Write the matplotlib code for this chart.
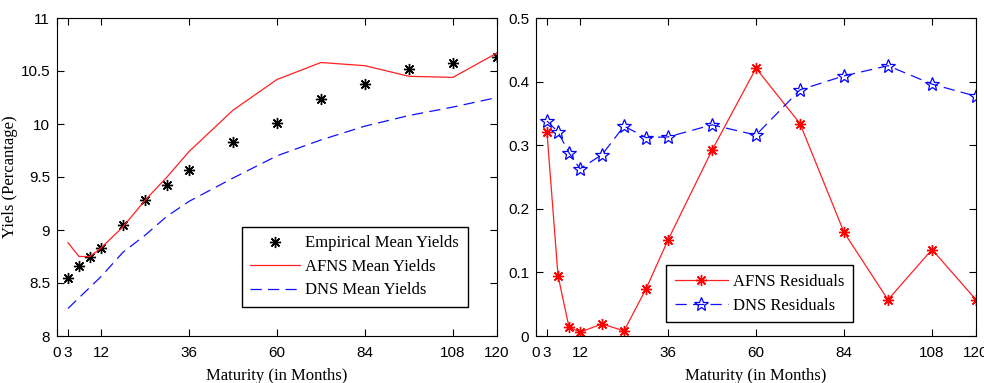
import numpy as np
import matplotlib
matplotlib.use("Agg")
import matplotlib.pyplot as plt

# maturities in months
maturity = [3, 6, 9, 12, 18, 24, 30, 36, 48, 60, 72, 84, 96, 108, 120]

# mean yields (percent)
empirical_yields = [8.55, 8.66, 8.75, 8.83, 9.05, 9.28, 9.42, 9.57, 9.83, 10.01,
                    10.24, 10.38, 10.52, 10.58, 10.63]
afns_yields = [8.88, 8.75, 8.75, 8.83, 9.03, 9.28, 9.50, 9.74, 10.13, 10.42,
               10.58, 10.55, 10.45, 10.44, 10.67]
dns_yields = [8.26, 8.36, 8.46, 8.56, 8.79, 8.95, 9.13, 9.27, 9.49, 9.70,
              9.85, 9.98, 10.08, 10.16, 10.25]

# residuals
afns_resid = [0.320, 0.095, 0.014, 0.006, 0.019, 0.008, 0.074, 0.151, 0.292, 0.421,
              0.334, 0.163, 0.057, 0.136, 0.057]
dns_resid = [0.338, 0.321, 0.288, 0.263, 0.285, 0.330, 0.312, 0.313, 0.332, 0.316,
             0.387, 0.409, 0.425, 0.396, 0.377]

xticks = [0, 3, 12, 36, 60, 84, 108, 120]
xticklabels = ["0", "3", "12", "36", "60", "84", "108", "120"]

serif = "Liberation Serif"
sans = "Liberation Sans"
asterisk = (8, 2, 0)

fig = plt.figure(figsize=(9.84, 3.83), dpi=100)
ax1 = fig.add_axes([57 / 984, 47 / 383, 440 / 984, 318 / 383])
ax2 = fig.add_axes([536 / 984, 47 / 383, 440 / 984, 318 / 383])

# left panel: mean yields
ax1.plot(maturity, empirical_yields, linestyle="none", marker=asterisk,
         color="black", markersize=8, markeredgewidth=1.0,
         label="Empirical Mean Yields")
ax1.plot(maturity, afns_yields, color="#ff2020", lw=0.9, label="AFNS Mean Yields")
ax1.plot(maturity, dns_yields, color="#1010ff", lw=0.9,
         dashes=(9, 5), label="DNS Mean Yields")
ax1.set_ylim(8, 11)
ax1.set_yticks([8, 8.5, 9, 9.5, 10, 10.5, 11])
ax1.set_yticklabels(["8", "8.5", "9", "9.5", "10", "10.5", "11"])
ax1.set_ylabel("Yiels (Percantage)", fontfamily=serif, fontsize=12)
ax1.yaxis.set_label_coords(-0.088, 0.5)
ax1.legend(loc="lower right", bbox_to_anchor=(0.933, 0.092), fancybox=False,
           edgecolor="black", framealpha=1, prop={"family": serif, "size": 12},
           handlelength=3.0, borderpad=0.5, labelspacing=0.45, handletextpad=0.3,
           borderaxespad=0)

# right panel: residuals
ax2.plot(maturity, afns_resid, color="#ff2020", lw=0.9, marker=asterisk,
         markersize=8, markeredgewidth=1.0, markeredgecolor="red",
         label="AFNS Residuals")
ax2.plot(maturity, dns_resid, color="#1010ff", lw=0.9, dashes=(9, 5), marker="*",
         markersize=10, markerfacecolor="none", markeredgecolor="blue",
         markeredgewidth=0.9, label="DNS Residuals")
ax2.set_ylim(0, 0.5)
ax2.set_yticks([0, 0.1, 0.2, 0.3, 0.4, 0.5])
ax2.set_yticklabels(["0", "0.1", "0.2", "0.3", "0.4", "0.5"])
ax2.legend(loc="lower right", bbox_to_anchor=(0.72, 0.043), fancybox=False,
           edgecolor="black", framealpha=1, prop={"family": serif, "size": 12},
           handlelength=3.2, borderpad=0.5, labelspacing=0.5, handletextpad=0.3,
           borderaxespad=0)

for ax in (ax1, ax2):
    ax.set_xlim(0, 120)
    ax.set_xticks(xticks)
    ax.set_xticklabels(xticklabels)
    ax.tick_params(direction="in", length=5, width=0.8, top=True, right=True,
                   labelsize=11, pad=5)
    ax.tick_params(axis="x", pad=7)
    for lab in ax.get_xticklabels() + ax.get_yticklabels():
        lab.set_fontfamily(sans)
    for sp in ax.spines.values():
        sp.set_linewidth(0.8)
    ax.set_xlabel("Maturity (in Months)", fontfamily=serif, fontsize=12, labelpad=6)

fig.savefig("out.png", dpi=100)
